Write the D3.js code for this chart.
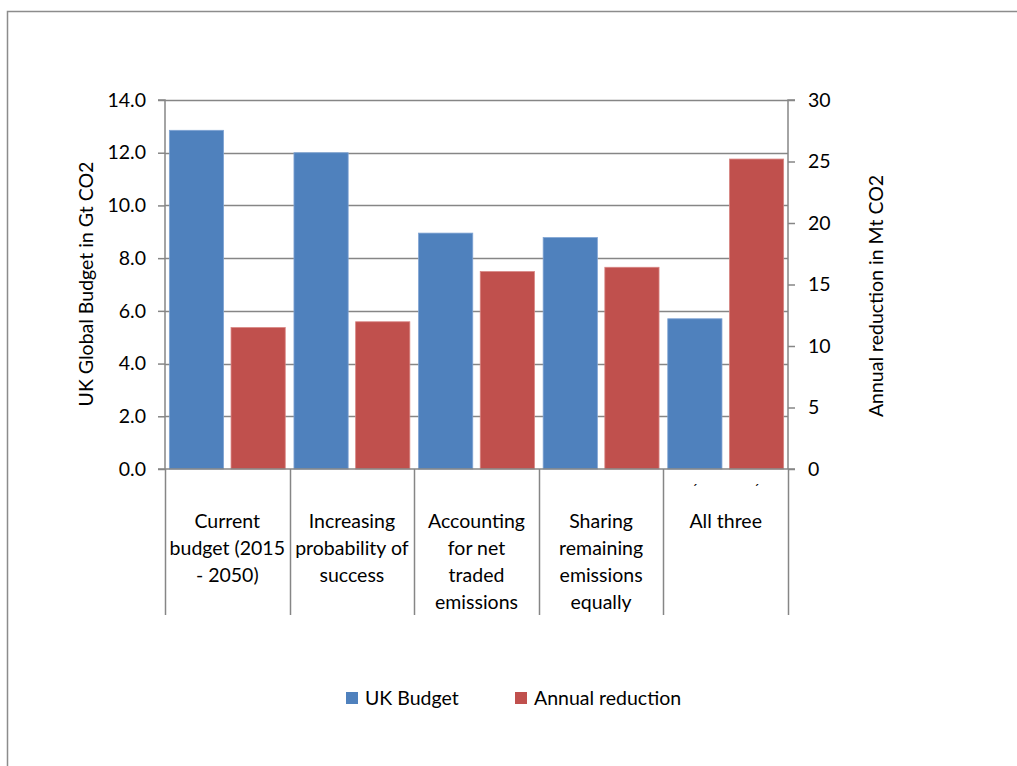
<!DOCTYPE html>
<html><head><meta charset="utf-8">
<script src="https://cdn.jsdelivr.net/npm/d3@7"></script>
<style>
html,body{margin:0;padding:0;background:#fff;}
svg text{font-family:Lato,"Open Sans",sans-serif;fill:#000;}
</style></head>
<body>
<svg id="chart" width="1017" height="766"></svg>
<script>
const categories = [
  ["Current", "budget (2015", "- 2050)"],
  ["Increasing", "probability of", "success"],
  ["Accounting", "for net", "traded", "emissions"],
  ["Sharing", "remaining", "emissions", "equally"],
  ["All three"]
];
const ukBudget = [12.85, 12.0, 8.95, 8.78, 5.7];
const annualReduction = [11.5, 11.97, 16.05, 16.4, 25.2];
const leftTicks = [0, 2, 4, 6, 8, 10, 12, 14];
const rightTicks = [0, 5, 10, 15, 20, 25, 30];
const seriesNames = ["UK Budget", "Annual reduction"];
const colors = ["#4F81BD", "#C0504D"];
const strokes = ["#7FA3D3", "#D88583"];

const svg = d3.select("#chart");
const L = 165, R = 788, T = 100, B = 469;
const grid = "#868686";
const FS = 19.5;

// frame
svg.append("path").attr("d", `M7.5,766 V11.5 H1017`).attr("fill", "none").attr("stroke", "#8c8c8c").attr("stroke-width", 1.5);

const x = d3.scaleBand().domain(d3.range(categories.length)).range([L, R]).paddingInner(0).paddingOuter(0);
const yL = d3.scaleLinear().domain([0, 14]).range([B, T]);
const yR = d3.scaleLinear().domain([0, 30]).range([B, T]);

// gridlines
svg.append("g").selectAll("line").data(leftTicks.filter(d => d > 0)).join("line")
  .attr("x1", L).attr("x2", R).attr("y1", d => Math.round(yL(d)) + 0.5).attr("y2", d => Math.round(yL(d)) + 0.5)
  .attr("stroke", grid).attr("stroke-width", 1.5);

// bars
const bw = x.bandwidth();
const barW = bw * 0.435, edge = bw * 0.035, gap = bw - 2 * barW - 2 * edge;
const g = svg.append("g");
g.selectAll("rect.b").data(ukBudget).join("rect").attr("class", "b")
  .attr("x", (d, i) => x(i) + edge).attr("width", barW)
  .attr("y", d => yL(d)).attr("height", d => B - yL(d))
  .attr("fill", colors[0]).attr("stroke", strokes[0]).attr("stroke-width", 0.8);
g.selectAll("rect.r").data(annualReduction).join("rect").attr("class", "r")
  .attr("x", (d, i) => x(i) + edge + barW + gap).attr("width", barW)
  .attr("y", d => yR(d)).attr("height", d => B - yR(d))
  .attr("fill", colors[1]).attr("stroke", strokes[1]).attr("stroke-width", 0.8);

// left axis
const axL = svg.append("g").attr("transform", `translate(${L},0)`)
  .call(d3.axisLeft(yL).tickValues(leftTicks).tickFormat(d3.format(".1f")).tickSize(7).tickPadding(12));
axL.select(".domain").attr("stroke", grid).attr("stroke-width", 1.5).attr("d", `M-7,${T}H0V${B}`);
axL.selectAll(".tick line").attr("stroke", grid).attr("stroke-width", 1.5);
axL.selectAll(".tick text").attr("font-size", FS).attr("font-family", "Lato").attr("fill", "#000");

// right axis
const axR = svg.append("g").attr("transform", `translate(${R},0)`)
  .call(d3.axisRight(yR).tickValues(rightTicks).tickSize(7).tickPadding(13));
axR.select(".domain").attr("stroke", grid).attr("stroke-width", 1.5).attr("d", `M7,${T}H0V${B}`);
axR.selectAll(".tick line").attr("stroke", grid).attr("stroke-width", 1.5);
axR.selectAll(".tick text").attr("font-size", FS).attr("font-family", "Lato").attr("fill", "#000");

// category axis
svg.append("line").attr("x1", L - 7).attr("x2", R + 7).attr("y1", B).attr("y2", B)
  .attr("stroke", grid).attr("stroke-width", 1.5);
const bounds = d3.range(categories.length + 1).map(i => i < categories.length ? x(i) : R);
svg.append("g").selectAll("line").data(bounds).join("line")
  .attr("x1", d => Math.round(d) + 0.5).attr("x2", d => Math.round(d) + 0.5).attr("y1", B).attr("y2", 615)
  .attr("stroke", grid).attr("stroke-width", 1.5);
categories.forEach((lines, i) => {
  const t = svg.append("text").attr("x", x(i) + bw / 2).attr("y", 528).attr("text-anchor", "middle").attr("font-size", FS);
  lines.forEach((ln, j) => t.append("tspan").attr("x", x(i) + bw / 2).attr("dy", j === 0 ? 0 : 27).text(ln));
});
// small stray marks in last category
[0, 1].forEach(k => {
  svg.append("text").attr("x", x(4) + edge + barW / 2 + k * (barW + gap)).attr("y", 494)
    .attr("text-anchor", "middle").attr("font-size", 14).text("´");
});

// axis titles
svg.append("text").attr("transform", `translate(93,284) rotate(-90)`).attr("text-anchor", "middle")
  .attr("font-size", FS).text("UK Global Budget in Gt CO2");
svg.append("text").attr("transform", `translate(883,296) rotate(-90)`).attr("text-anchor", "middle")
  .attr("font-size", FS).text("Annual reduction in Mt CO2");

// legend
const legX = [346, 515];
seriesNames.forEach((n, i) => {
  svg.append("rect").attr("x", legX[i]).attr("y", 692).attr("width", 12).attr("height", 12).attr("fill", colors[i]);
  svg.append("text").attr("x", legX[i] + 19).attr("y", 705).attr("font-size", FS).text(n);
});
</script>
</body></html>
